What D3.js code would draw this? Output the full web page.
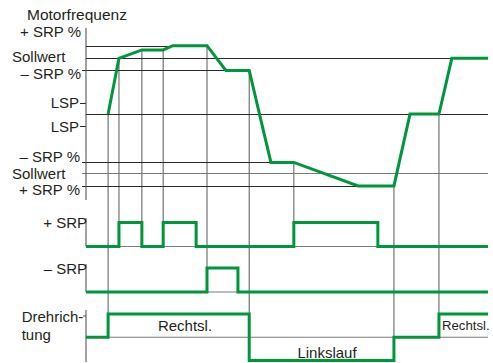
<!DOCTYPE html>
<html>
<head>
<meta charset="utf-8">
<script src="https://cdn.jsdelivr.net/npm/d3@7"></script>
<style>
  html, body { margin: 0; padding: 0; background: #fff; }
  svg { display: block; }
  text { font-family: "Liberation Sans", Arial, Helvetica, sans-serif; fill: #231f20; }
</style>
</head>
<body>
<script>
// Time axis runs 0..100 (schematic units); frequency in % of Sollwert.
const freqTimes  = [5.5, 8.2, 13.9, 19.2, 21.6, 30.1, 34.8, 40.6, 46.0, 51.7, 67.7, 76.6, 80.6, 87.8, 91.0, 100];
const freqValues = [3, 100, 114.5, 114.5, 122, 122, 79, 79, -81, -81, -122, -122, 3, 3, 100, 100];

// Reference levels: value, end time
const levelNames  = ["+SRP", "Sollwert", "-SRP", "LSP", "-SRP rev", "Sollwert rev", "+SRP rev"];
const levelValues = [122, 100, 79, 3, -81, -100, -122];
const levelEnds   = [30.1, 100, 40.6, 100, 51.7, 100, 76.6];
const levelTicked = [false, false, true, false, true, true, true];
const lspTickValues = [23, -17];

// Binary signals (step after)
const plusTimes   = [0, 8.2, 13.9, 19.2, 27.4, 51.7, 72.6, 100];
const plusValues  = [0, 1, 0, 1, 0, 1, 0, 0];
const minusTimes  = [0, 30.1, 37.8, 100];
const minusValues = [0, 1, 0, 0];
// Direction: 1 = Rechtslauf, -1 = Linkslauf
const dirTimes    = [0, 5.5, 40.6, 76.6, 87.8, 100];
const dirValues   = [0, 1, -1, 0, 1, 1];

// Event markers: time, frequency where they start, signal row where they end
const markerTimes = [5.5, 8.2, 13.9, 19.2, 30.1, 40.6, 51.7, 76.6, 87.8];
const markerFreq  = [3, 100, 114.5, 114.5, 122, 79, -81, -122, 3];
const markerRow   = ["dir", "plus", "plus", "plus", "minus", "dir", "plus", "dirMid", "dir"];

const W = 493, H = 363;
const green = "#00963c";

const svg = d3.select("body").append("svg").attr("width", W).attr("height", H);

const x = d3.scaleLinear().domain([0, 100]).range([86, 488]);
const y = d3.scaleLinear().domain([-130, 130]).range([190.55, 41.05]);
const yPlus  = d3.scaleLinear().domain([0, 1]).range([246.5, 222.5]);
const yMinus = d3.scaleLinear().domain([0, 1]).range([292, 268]);
const yDir   = d3.scaleLinear().domain([-1, 1]).range([360.5, 314]);

const rowEnd = {
  plus: yPlus(1),
  minus: yMinus(1),
  dir: yDir(1),
  dirMid: yDir(0)
};

// Vertical event markers
svg.append("g").selectAll("line")
  .data(markerTimes.map((t, i) => ({ t, f: markerFreq[i], row: markerRow[i] })))
  .join("line")
  .attr("x1", d => x(d.t)).attr("x2", d => x(d.t))
  .attr("y1", d => y(d.f)).attr("y2", d => rowEnd[d.row])
  .attr("stroke", "#666").attr("stroke-width", 1.1);

// Horizontal reference levels
svg.append("g").selectAll("line")
  .data(levelValues.map((v, i) => ({ v, end: levelEnds[i], tick: levelTicked[i], name: levelNames[i] })))
  .join("line")
  .attr("x1", d => d.tick ? x(0) - 4 : x(0))
  .attr("x2", d => x(d.end))
  .attr("y1", d => Math.round(y(d.v)) + 0.5).attr("y2", d => Math.round(y(d.v)) + 0.5)
  .attr("stroke", d => d.name === "Sollwert rev" ? "#7a7a7a" : "#2a2a2a")
  .attr("stroke-width", 1);

// LSP ticks
svg.append("g").selectAll("line")
  .data(lspTickValues)
  .join("line")
  .attr("x1", x(0) - 6).attr("x2", x(0))
  .attr("y1", d => Math.round(y(d)) + 0.5).attr("y2", d => Math.round(y(d)) + 0.5)
  .attr("stroke", "#2a2a2a").attr("stroke-width", 1);

// Signal baselines
const baselines = [yPlus(0), yMinus(0), yDir(0)];
svg.append("g").selectAll("line")
  .data(baselines)
  .join("line")
  .attr("x1", x(0)).attr("x2", x(100))
  .attr("y1", d => d).attr("y2", d => d)
  .attr("stroke", "#7a7a7a").attr("stroke-width", 1.1);

// Left axes
const axisSegments = [[28, 200], [218, yPlus(0)], [264, yMinus(0)], [310, 362]];
svg.append("g").selectAll("line")
  .data(axisSegments)
  .join("line")
  .attr("x1", x(0)).attr("x2", x(0))
  .attr("y1", d => d[0]).attr("y2", d => d[1])
  .attr("stroke", "#555").attr("stroke-width", 1.1);

// Drehrichtung tick
svg.append("line")
  .attr("x1", x(0) - 3).attr("x2", x(0))
  .attr("y1", 316).attr("y2", 316)
  .attr("stroke", "#555");

// Frequency curve
const freqLine = d3.line().x(d => x(d[0])).y(d => y(d[1]));
svg.append("path")
  .datum(freqTimes.map((t, i) => [t, freqValues[i]]))
  .attr("d", freqLine)
  .attr("fill", "none").attr("stroke", green).attr("stroke-width", 3)
  .attr("stroke-linejoin", "miter");

// Step signals
function stepPath(times, values, scale) {
  const line = d3.line().x(d => x(d[0])).y(d => scale(d[1])).curve(d3.curveStepAfter);
  svg.append("path")
    .datum(times.map((t, i) => [t, values[i]]))
    .attr("d", line)
    .attr("fill", "none").attr("stroke", green).attr("stroke-width", 3)
    .attr("stroke-linejoin", "miter");
}
stepPath(plusTimes, plusValues, yPlus);
stepPath(minusTimes, minusValues, yMinus);
stepPath(dirTimes, dirValues, yDir);

// Labels
const fs = 15;
function label(txt, xPos, yPos, anchor, opts = {}) {
  const t = svg.append("text")
    .attr("x", xPos).attr("y", yPos)
    .attr("text-anchor", anchor)
    .attr("font-size", opts.size || fs)
    .text(txt);
  if (opts.weight) t.attr("font-weight", opts.weight);
  if (opts.spacing) t.attr("letter-spacing", opts.spacing);
  return t;
}

label("Motorfrequenz", 27, 19.5, "start", { size: 15.5 });
label("+ SRP %", 81, 36.5, "end");
label("Sollwert", 12, 62, "start");
label("\u2013 SRP %", 81, 78.5, "end");
label("LSP", 79, 108, "end");
label("LSP", 79, 131.5, "end");
label("\u2013 SRP %", 80, 162, "end");
label("Sollwert", 12, 178.5, "start");
label("+ SRP %", 80, 195, "end");
label("+ SRP", 87, 228, "end");
label("\u2013 SRP", 87, 274, "end");
label("Drehrich-", 21.7, 322, "start");
label("tung", 21.7, 340, "start");

label("Rechtsl.", 185, 330.5, "middle");
label("Linkslauf", 327, 358, "middle");
label("Rechtsl.", 442, 330, "start", { size: 13.2 });
</script>
</body>
</html>
